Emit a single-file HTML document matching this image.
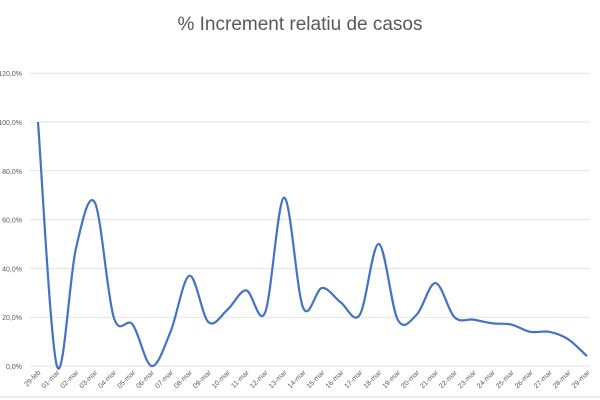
<!DOCTYPE html><html><head><style>body{margin:0;background:#fff}svg{display:block}text{font-family:"Liberation Sans",sans-serif}</style></head><body>
<svg id="s" width="600" height="400" xmlns="http://www.w3.org/2000/svg">
<rect width="600" height="400" fill="#fff"/>
<text x="300" y="30" text-anchor="middle" font-size="19" fill="#595959">% Increment relatiu de casos</text>
<g id="g"></g>
<line x1="0" y1="397" x2="600" y2="397" stroke="#d9d9d9" stroke-width="1"/>
</svg>
<script>
var g=document.getElementById('g'),ns='http://www.w3.org/2000/svg';
function el(t,a,txt){var e=document.createElementNS(ns,t);for(var k in a)e.setAttribute(k,a[k]);if(txt)e.textContent=txt;g.appendChild(e);return e}
var y0=366,dy=48.8;
for(var i=0;i<=6;i++){var y=y0-i*dy;el('line',{x1:30,x2:590,y1:y,y2:y,stroke:'#e3e3e3','stroke-width':1});el('text',{x:22,y:y+3,'text-anchor':'end','font-size':7,fill:'#595959'},(i*20)+',0%')}
var d=[100,0,48,67,20,17,0,14,37,18,23,31,22,69,24,32,26,21,50,19,21,34,20,19,17.5,17,14,14,11,4];
d.splice(0,0);var labels=['29-feb'];for(var i=1;i<=29;i++)labels.push((i<10?'0':'')+i+'-mar');
var x0=38,sx=(587-38)/29;
var P=d.map(function(v,i){return[x0+i*sx,y0-v/20*dy]});
var p='M'+P[0][0]+','+P[0][1];
for(var i=0;i<P.length-1;i++){var a=P[i-1]||P[i],b=P[i],c=P[i+1],e=P[i+2]||c;
p+=' C'+(b[0]+(c[0]-a[0])/6)+','+(b[1]+(c[1]-a[1])/6)+' '+(c[0]-(e[0]-b[0])/6)+','+(c[1]-(e[1]-b[1])/6)+' '+c[0]+','+c[1];}
el('path',{d:p,fill:'none',stroke:'#4472c4','stroke-width':2.2,'stroke-linejoin':'round'});
labels.forEach(function(l,i){var x=x0+i*sx;el('text',{x:x+3,y:373,'text-anchor':'end','font-size':7,fill:'#595959',transform:'rotate(-45 '+(x+3)+' 373)'},l)});
</script>
</body></html>
